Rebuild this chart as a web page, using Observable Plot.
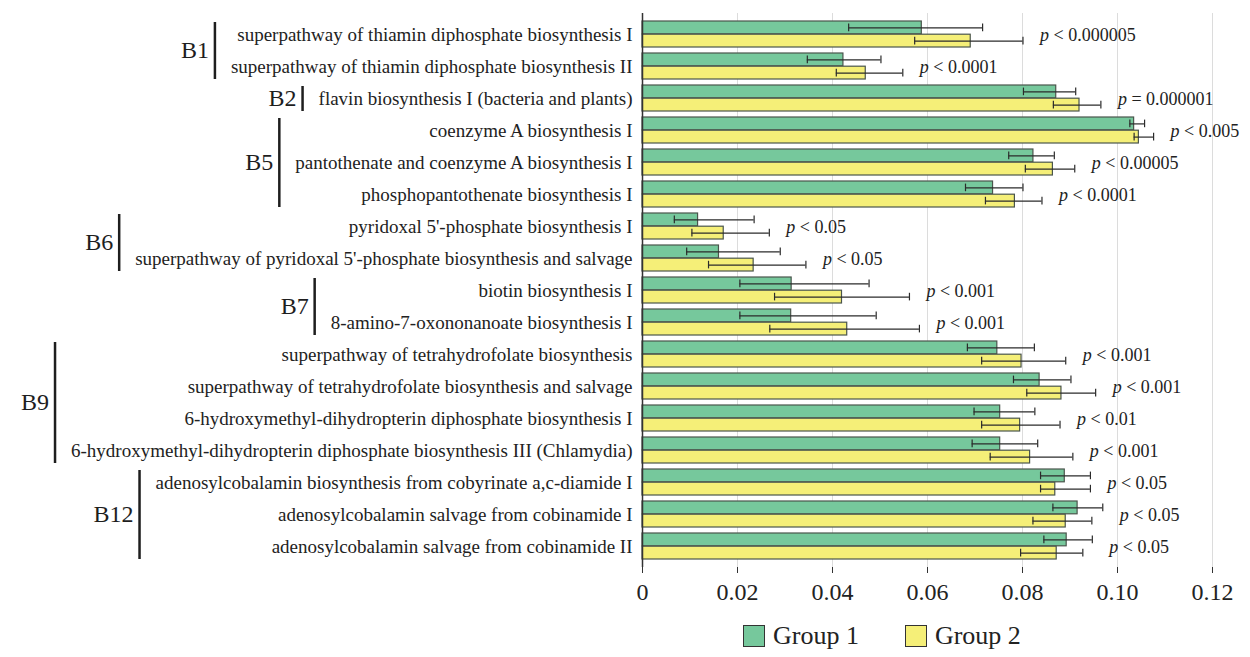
<!DOCTYPE html>
<html>
<head>
<meta charset="utf-8">
<script src="https://cdn.jsdelivr.net/npm/d3@7"></script>
<script src="https://cdn.jsdelivr.net/npm/@observablehq/plot@0.6"></script>
<style>
  html, body { margin: 0; padding: 0; background: #fff; }
  body { width: 1250px; height: 657px; overflow: hidden; font-family: "Liberation Serif", "Times New Roman", serif; }
  #legend { display: flex; align-items: center; height: 42px; padding-left: 743px; font-size: 26px; color: #222; }
  #legend .item { display: flex; align-items: center; }
  #legend .sw { width: 20px; height: 20px; border: 1.5px solid #333; margin-right: 8px; }
</style>
</head>
<body>
<div id="chart"></div>
<div id="legend"></div>
<script>
// ---------- data ----------
const pathways = [
  "superpathway of thiamin diphosphate biosynthesis I",
  "superpathway of thiamin diphosphate biosynthesis II",
  "flavin biosynthesis I (bacteria and plants)",
  "coenzyme A biosynthesis I",
  "pantothenate and coenzyme A biosynthesis I",
  "phosphopantothenate biosynthesis I",
  "pyridoxal 5'-phosphate biosynthesis I",
  "superpathway of pyridoxal 5'-phosphate biosynthesis and salvage",
  "biotin biosynthesis I",
  "8-amino-7-oxononanoate biosynthesis I",
  "superpathway of tetrahydrofolate biosynthesis",
  "superpathway of tetrahydrofolate biosynthesis and salvage",
  "6-hydroxymethyl-dihydropterin diphosphate biosynthesis I",
  "6-hydroxymethyl-dihydropterin diphosphate biosynthesis III (Chlamydia)",
  "adenosylcobalamin biosynthesis from cobyrinate a,c-diamide I",
  "adenosylcobalamin salvage from cobinamide I",
  "adenosylcobalamin salvage from cobinamide II"
];
const vitamins = ["B1","B1","B2","B5","B5","B5","B6","B6","B7","B7","B9","B9","B9","B9","B12","B12","B12"];
const group1   = [0.0588,0.0423,0.0871,0.1035,0.0823,0.0738,0.0117,0.0161,0.0314,0.0313,0.0747,0.0836,0.0753,0.0753,0.0889,0.0916,0.0893];
const group1Lo = [0.0434,0.0347,0.0802,0.1026,0.0771,0.0680,0.0067,0.0093,0.0205,0.0205,0.0684,0.0781,0.0698,0.0694,0.0838,0.0864,0.0845];
const group1Hi = [0.0716,0.0502,0.0912,0.1057,0.0867,0.0801,0.0235,0.0290,0.0477,0.0492,0.0825,0.0902,0.0826,0.0832,0.0943,0.0969,0.0947];
const group2   = [0.0691,0.0470,0.0920,0.1045,0.0864,0.0784,0.0171,0.0234,0.0420,0.0431,0.0798,0.0882,0.0795,0.0816,0.0869,0.0891,0.0872];
const group2Lo = [0.0573,0.0408,0.0865,0.1035,0.0806,0.0722,0.0104,0.0139,0.0278,0.0268,0.0714,0.0809,0.0714,0.0732,0.0838,0.0822,0.0796];
const group2Hi = [0.0801,0.0548,0.0965,0.1076,0.0910,0.0841,0.0267,0.0344,0.0562,0.0583,0.0891,0.0954,0.0879,0.0906,0.0943,0.0946,0.0927];
const pLabels  = ["p < 0.000005","p < 0.0001","p = 0.000001","p < 0.005","p < 0.00005","p < 0.0001","p < 0.05","p < 0.05","p < 0.001","p < 0.001","p < 0.001","p < 0.001","p < 0.01","p < 0.001","p < 0.05","p < 0.05","p < 0.05"];
const xTicks = [0, 0.02, 0.04, 0.06, 0.08, 0.10, 0.12];
const seriesNames = ["Group 1", "Group 2"];
const seriesColors = ["#76c89c", "#f5ef78"];

// ---------- layout ----------
const W = 1250, H = 615, mt = 13, mb = 48, ml = 642, mr = 38;
const pin = 0.19, pout = 0.1;
const n = pathways.length;
const step = (H - mt - mb) / (n - pin + 2 * pout);
const bw = step * (1 - pin);
const half = bw / 2;
const capH = 8;
const barStroke = "#4a554c";
const errStroke = "#2b2b2b";

const rows = pathways.map((name, i) => ({
  name, vit: vitamins[i],
  g1: group1[i], g1Lo: group1Lo[i], g1Hi: group1Hi[i],
  g2: group2[i], g2Lo: group2Lo[i], g2Hi: group2Hi[i],
  p: pLabels[i], pmax: Math.max(group1Hi[i], group2Hi[i])
}));

const capTop1 = half / 2 - capH / 2, capBot1 = bw - half / 2 - capH / 2;
const capTop2 = half + half / 2 - capH / 2, capBot2 = half / 2 - capH / 2;

const plot = Plot.plot({
  width: W, height: H,
  marginTop: mt, marginBottom: mb, marginLeft: ml, marginRight: mr,
  style: { fontFamily: "Liberation Serif, Times New Roman, serif", background: "#fff", color: "#222" },
  x: { domain: [0, 0.12] },
  y: { domain: pathways, paddingInner: pin, paddingOuter: pout },
  marks: [
    Plot.ruleX(xTicks.filter(d => d > 0), { stroke: "#dcdcdc", strokeWidth: 1 }),
    Plot.barX(rows, { x: "g1", y: "name", fill: seriesColors[0], stroke: barStroke, strokeWidth: 1.2, insetBottom: half }),
    Plot.barX(rows, { x: "g2", y: "name", fill: seriesColors[1], stroke: barStroke, strokeWidth: 1.2, insetTop: half }),
    Plot.ruleY(rows, { x1: "g1Lo", x2: "g1Hi", y: "name", dy: -half / 2, stroke: errStroke, strokeWidth: 1.2 }),
    Plot.ruleY(rows, { x1: "g2Lo", x2: "g2Hi", y: "name", dy: half / 2, stroke: errStroke, strokeWidth: 1.2 }),
    Plot.tickX(rows, { x: "g1Lo", y: "name", insetTop: capTop1, insetBottom: capBot1, stroke: errStroke, strokeWidth: 1.2 }),
    Plot.tickX(rows, { x: "g1Hi", y: "name", insetTop: capTop1, insetBottom: capBot1, stroke: errStroke, strokeWidth: 1.2 }),
    Plot.tickX(rows, { x: "g2Lo", y: "name", insetTop: capTop2, insetBottom: capBot2, stroke: errStroke, strokeWidth: 1.2 }),
    Plot.tickX(rows, { x: "g2Hi", y: "name", insetTop: capTop2, insetBottom: capBot2, stroke: errStroke, strokeWidth: 1.2 }),
    Plot.ruleX([0], { stroke: "#333", strokeWidth: 1.5 }),
    Plot.text(rows, { x: "pmax", y: "name", text: "p", dx: 17, dy: 1, textAnchor: "start", fontSize: 18, fill: "#222" }),
    Plot.axisX({ ticks: xTicks, tickFormat: d => d === 0 ? "0" : d3.format(".2f")(d), tickSize: 6, tickPadding: 9, fontSize: 24, label: null, stroke: "#333" }),
    Plot.axisY({ tickSize: 0, tickPadding: 10, fontSize: 19, label: null, fill: "#222" })
  ]
});

document.getElementById("chart").appendChild(plot);

// italic "p" in significance labels
d3.select(plot).selectAll("text").each(function () {
  const el = d3.select(this);
  const t = this.textContent;
  if (/^p [<=] /.test(t) && this.children.length === 0) {
    el.text(null);
    el.append("tspan").attr("font-style", "italic").text("p");
    el.append("tspan").text(t.slice(1));
  }
});

// vitamin group brackets
const yScale = plot.scale("y");
const svgRect = plot.getBoundingClientRect();
const labelLeft = {};
d3.select(plot).selectAll("g[aria-label='y-axis tick label'] text").each(function (d, i) {
  const r = this.getBoundingClientRect();
  const name = this.textContent;
  labelLeft[name] = r.left - svgRect.left;
});
const groups = d3.groups(rows, d => d.vit);
const svg = d3.select(plot);
const ann = svg.append("g").attr("class", "vitamin-groups");
for (const [vit, items] of groups) {
  const y0 = yScale.apply(items[0].name);
  const y1 = yScale.apply(items[items.length - 1].name) + yScale.bandwidth;
  const left = d3.min(items, d => labelLeft[d.name]);
  const lx = left - 16;
  ann.append("line").attr("x1", lx).attr("x2", lx).attr("y1", y0 + 1).attr("y2", y1)
    .attr("stroke", "#1e1e1e").attr("stroke-width", 2.5);
  ann.append("text").attr("x", lx - 6).attr("y", (y0 + y1) / 2).attr("dy", "0.35em")
    .attr("text-anchor", "end").attr("font-size", 24).attr("fill", "#1e1e1e").text(vit);
}

// legend
const legend = d3.select("#legend");
seriesNames.forEach((s, i) => {
  const it = legend.append("div").attr("class", "item").style("margin-right", i === 0 ? "46px" : "0");
  it.append("div").attr("class", "sw").style("background", seriesColors[i]);
  it.append("span").text(s);
});
</script>
</body>
</html>
